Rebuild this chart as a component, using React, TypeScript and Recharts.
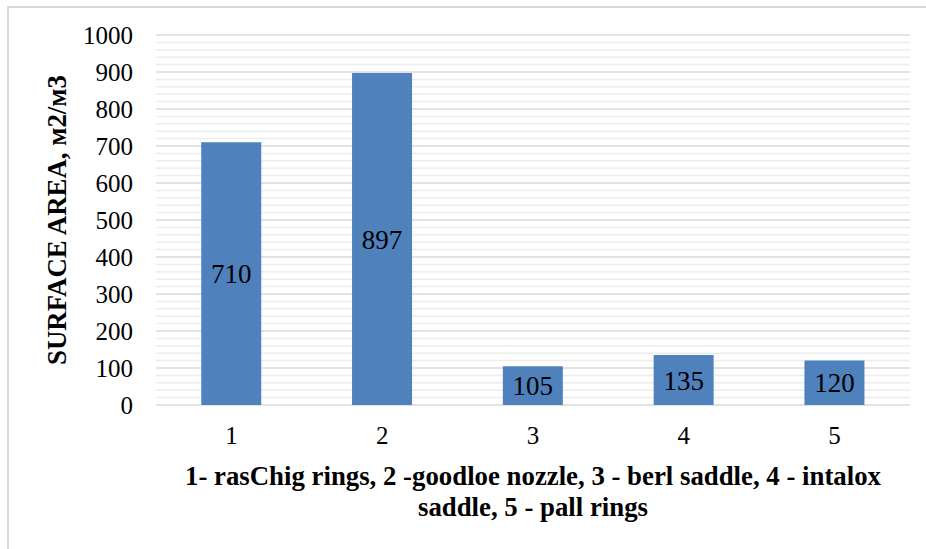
import { BarChart, Bar, XAxis, YAxis, CartesianGrid, LabelList, ReferenceLine } from 'recharts'

const categories = ['1', '2', '3', '4', '5']
const surfaceArea = [710, 897, 105, 135, 120]
const majorTicks = [0, 100, 200, 300, 400, 500, 600, 700, 800, 900, 1000]
const minorTicks = [
  20, 40, 60, 80, 120, 140, 160, 180, 220, 240, 260, 280, 320, 340, 360, 380,
  420, 440, 460, 480, 520, 540, 560, 580, 620, 640, 660, 680, 720, 740, 760, 780,
  820, 840, 860, 880, 920, 940, 960, 980,
]
const yTitle = 'SURFACE AREA, м2/м3'
const xTitle = ['1- rasChig rings, 2 -goodloe nozzle, 3 - berl saddle, 4 - intalox', 'saddle, 5 - pall rings']

const data = categories.map((c, i) => ({ name: c, value: surfaceArea[i] }))

const serif = 'Liberation Serif'

function XTitle({ viewBox }: any) {
  const cx = viewBox.x + viewBox.width / 2
  return (
    <text
      x={cx}
      y={viewBox.y + 80}
      textAnchor="middle"
      style={{ fontFamily: serif, fontWeight: 'bold', fontSize: 26.8 }}
      fill="#000"
    >
      <tspan x={cx}>{xTitle[0]}</tspan>
      <tspan x={cx} dy={31}>{xTitle[1]}</tspan>
    </text>
  )
}

function YTitle({ viewBox }: any) {
  const cx = viewBox.x + 57
  const cy = viewBox.y + viewBox.height / 2
  return (
    <text
      x={cx}
      y={cy}
      transform={`rotate(-90 ${cx} ${cy})`}
      textAnchor="middle"
      dominantBaseline="central"
      style={{ fontFamily: serif, fontWeight: 'bold', fontSize: 26.8 }}
      fill="#000"
    >
      {yTitle}
    </text>
  )
}

export default function App() {
  return (
    <div style={{ position: 'absolute', left: 0, top: 0, width: 926, height: 549, background: '#fff' }}>
      <div
        style={{
          position: 'absolute',
          left: 7,
          top: 6,
          width: 919,
          height: 543,
          borderLeft: '2px solid #d9d9d9',
          borderTop: '2px solid #d9d9d9',
          boxSizing: 'border-box',
        }}
      />
      <div style={{ position: 'absolute', left: 0, top: 0 }}>
        <BarChart
          width={926}
          height={549}
          data={data}
          margin={{ top: 35, right: 16, bottom: 0, left: 0 }}
          barCategoryGap="30%"
        >
          <CartesianGrid vertical={false} stroke="#d9d9d9" strokeWidth={1.5} />
          {minorTicks.map((v) => (
            <ReferenceLine key={v} y={v} stroke="#ececec" strokeWidth={1.5} zIndex={-100} />
          ))}
          <XAxis
            dataKey="name"
            height={144}
            axisLine={false}
            tickLine={false}
            tickMargin={15}
            tick={{ fill: '#000', fontFamily: serif, fontSize: 25 }}
            label={<XTitle />}
          />
          <YAxis
            width={156}
            domain={[0, 1000]}
            ticks={majorTicks}
            axisLine={false}
            tickLine={false}
            tickMargin={17}
            tick={{ fill: '#000', fontFamily: serif, fontSize: 25 }}
            label={<YTitle />}
          />
          <Bar dataKey="value" fill="#4f81bd" isAnimationActive={false}>
            <LabelList dataKey="value" position="center" fill="#000" fontFamily={serif} fontSize={27} />
          </Bar>
        </BarChart>
      </div>
    </div>
  )
}
